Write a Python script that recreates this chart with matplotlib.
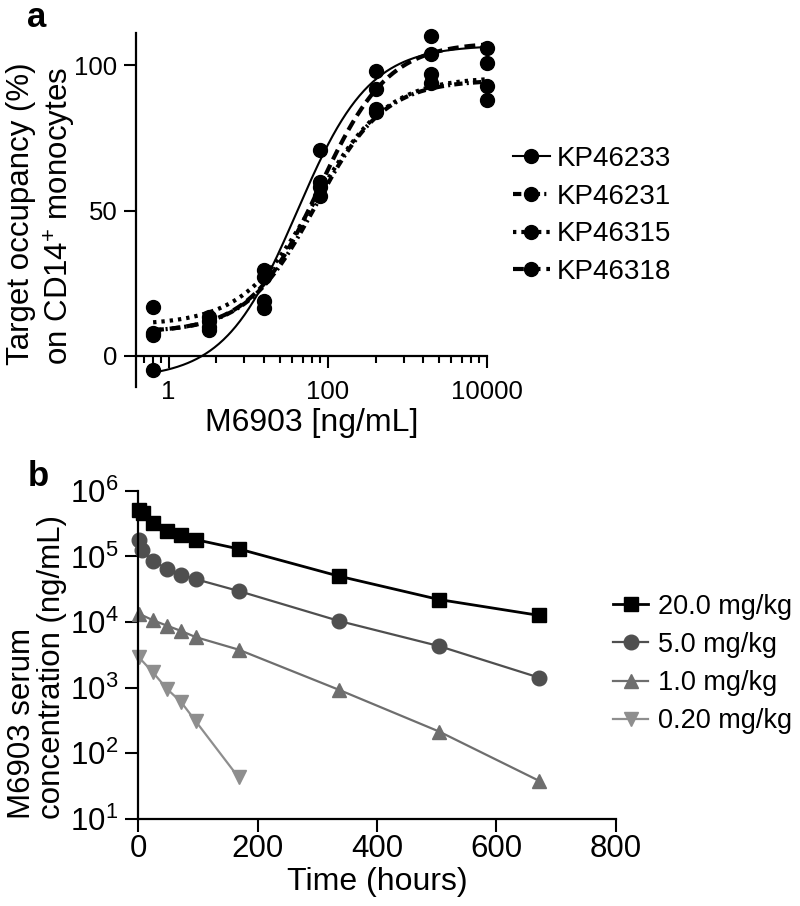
import numpy as np
import matplotlib
matplotlib.use("Agg")
import matplotlib.pyplot as plt
from matplotlib.lines import Line2D
from matplotlib.ticker import FixedLocator, NullLocator, NullFormatter

plt.rcParams['font.family'] = ['Liberation Sans', 'DejaVu Sans']
plt.rcParams['mathtext.fontset'] = 'custom'
plt.rcParams['mathtext.rm'] = 'Liberation Sans'

# ---- panel a: target occupancy, 4 donors ----
conc = [0.64, 3.2, 16, 80, 400, 2000, 10000]
donors = ['KP46233', 'KP46231', 'KP46315', 'KP46318']
occ_233 = [-5, 9, 29.5, 71, 98, 104, 106]
occ_231 = [7.7, 12, 19, 58, 85, 94, 88]
occ_315 = [16.6, 13.4, 27, 55, 84, 97, 93]
occ_318 = [7.1, 10, 16.3, 60, 92, 110, 101]

# 4PL fit parameters (bottom, top, EC50, hill)
fit_bottom = [-8, 8, 10.5, 8]
fit_top = [107, 95, 96, 108]
fit_ec50 = [41, 70, 69, 79]
fit_hill = [0.95, 1.0, 0.95, 1.0]

# ---- panel b: PK profiles ----
doses = ['20.0 mg/kg', '5.0 mg/kg', '1.0 mg/kg', '0.20 mg/kg']
t_20 = [1, 8, 24, 48, 72, 96, 168, 336, 504, 672]
c_20 = [5.0e5, 4.5e5, 3.2e5, 2.45e5, 2.1e5, 1.8e5, 1.3e5, 5.0e4, 2.2e4, 1.26e4]
t_5 = [1, 6, 24, 48, 72, 96, 168, 336, 504, 672]
c_5 = [1.78e5, 1.24e5, 8.5e4, 6.5e4, 5.2e4, 4.5e4, 2.97e4, 1.04e4, 4.3e3, 1.42e3]
t_1 = [1, 24, 48, 72, 96, 168, 336, 504, 672]
c_1 = [1.34e4, 1.07e4, 8.8e3, 7.3e3, 5.9e3, 3.8e3, 930, 215, 38]
t_02 = [1, 24, 48, 72, 96, 168]
c_02 = [2.9e3, 1.73e3, 960, 600, 310, 43]

W, H = 800, 906
fig = plt.figure(figsize=(W / 100, H / 100), dpi=100)

# ================= panel a =================
axa = fig.add_axes([136 / W, 1 - 386.7 / H, 350.7 / W, 353.7 / H])
occs = [occ_233, occ_231, occ_315, occ_318]
styles = [
    dict(ls='-', lw=1.5),
    dict(ls=(0, (2.0, 1.0, 0.5, 1.0)), lw=3),
    dict(ls=(0, (0.8, 1.2)), lw=3),
    dict(ls=(0, (2.6, 1.4)), lw=3),
]
xs = np.logspace(np.log10(0.64), 4, 300)
handles = []
for i in range(4):
    b, t, ec, h = fit_bottom[i], fit_top[i], fit_ec50[i], fit_hill[i]
    yfit = b + (t - b) / (1 + (ec / xs) ** h)
    axa.plot(xs, yfit, color='black', clip_on=False, **styles[i])
    axa.plot(conc, occs[i], 'o', color='black', ms=10, clip_on=False, zorder=3)
    handles.append(Line2D([], [], color='black', marker='o', ms=10, **styles[i]))

axa.set_xscale('log')
axa.set_xlim(0.39, 10000)
axa.set_ylim(-10.7, 111.2)
axa.spines['top'].set_visible(False)
axa.spines['right'].set_visible(False)
axa.spines['bottom'].set_position(('data', 0))
for s in ['left', 'bottom']:
    axa.spines[s].set_linewidth(1.6)
axa.xaxis.set_major_locator(FixedLocator([1, 100, 10000]))
axa.set_xticklabels(['1', '100', '10000'])
minors = [k * k * 100.0 ** n for n in (-1, 0, 1) for k in range(2, 10)]
minors = [m for m in minors if 0.39 <= m <= 10000]
axa.xaxis.set_minor_locator(FixedLocator(minors))
axa.xaxis.set_minor_formatter(NullFormatter())
axa.set_yticks([0, 50, 100])
axa.tick_params(axis='both', which='major', direction='out', length=8.5, width=1.5,
                labelsize=18.5)
axa.tick_params(axis='x', which='major', pad=9)
axa.tick_params(axis='y', which='major', pad=5)
axa.tick_params(axis='x', which='minor', direction='out', length=5, width=1.5)
axa.set_xlabel('M6903 [ng/mL]', fontsize=23, labelpad=3)

axa.legend(handles, donors, loc='center left', frameon=False,
           bbox_to_anchor=(513 / W, 1 - 215.5 / H), bbox_transform=fig.transFigure,
           fontsize=20, handlelength=1.33, handletextpad=0.25, labelspacing=0.42,
           borderpad=0, borderaxespad=0)

# anchor is the baseline of the last line
fig.text(63 / W, 1 - 365 / H, 'Target occupancy (%)\non CD14$^{+}$ monocytes',
         rotation=90, rotation_mode='anchor', ha='left', va='baseline',
         multialignment='left', linespacing=1.2, fontsize=22.5)
fig.text(27 / W, 1 - 27 / H, 'a', fontsize=25, fontweight='bold', va='baseline')

# ================= panel b =================
axb = fig.add_axes([138.3 / W, 1 - 819 / H, 477.4 / W, 328.3 / H])
series = [(t_20, c_20, 's', '#000000', 2.0, 10),
          (t_5, c_5, 'o', '#4f4f4f', 1.6, 10.5),
          (t_1, c_1, '^', '#6e6e6e', 1.6, 10.5),
          (t_02, c_02, 'v', '#8e8e8e', 1.6, 10.5)]
for (t, c, m, col, lw, ms), lab in zip(series, doses):
    axb.plot(t, c, marker=m, color=col, lw=lw, ms=ms, mec=col, mfc=col,
             clip_on=False, label=lab)
axb.set_yscale('log')
axb.set_ylim(10, 1e6)
axb.set_xlim(0, 800)
axb.set_xticks([0, 200, 400, 600, 800])
axb.set_yticks([10 ** k for k in range(1, 7)])
axb.set_yticklabels([r'$\mathregular{10^{%d}}$' % k for k in range(1, 7)])
axb.yaxis.set_minor_locator(NullLocator())
axb.spines['top'].set_visible(False)
axb.spines['right'].set_visible(False)
for s in ['left', 'bottom']:
    axb.spines[s].set_linewidth(1.6)
axb.tick_params(axis='both', which='major', direction='out', length=9.5, width=1.5,
                labelsize=22.5)
axb.tick_params(axis='x', pad=1.5)
axb.tick_params(axis='y', pad=5)
axb.set_xlabel('Time (hours)', fontsize=23, labelpad=2)

axb.legend(loc='center left', frameon=False,
           bbox_to_anchor=(613 / W, 1 - 664 / H), bbox_transform=fig.transFigure,
           fontsize=19.5, handlelength=1.3, handletextpad=0.37, labelspacing=0.45,
           borderpad=0, borderaxespad=0)

fig.text(60 / W, 1 - 819 / H, 'M6903 serum\nconcentration (ng/mL)', rotation=90,
         rotation_mode='anchor', ha='left', va='baseline',
         multialignment='left', linespacing=0.98, fontsize=22.5)
fig.text(28 / W, 1 - 486 / H, 'b', fontsize=25, fontweight='bold', va='baseline')

fig.savefig('out.png', dpi=100)
